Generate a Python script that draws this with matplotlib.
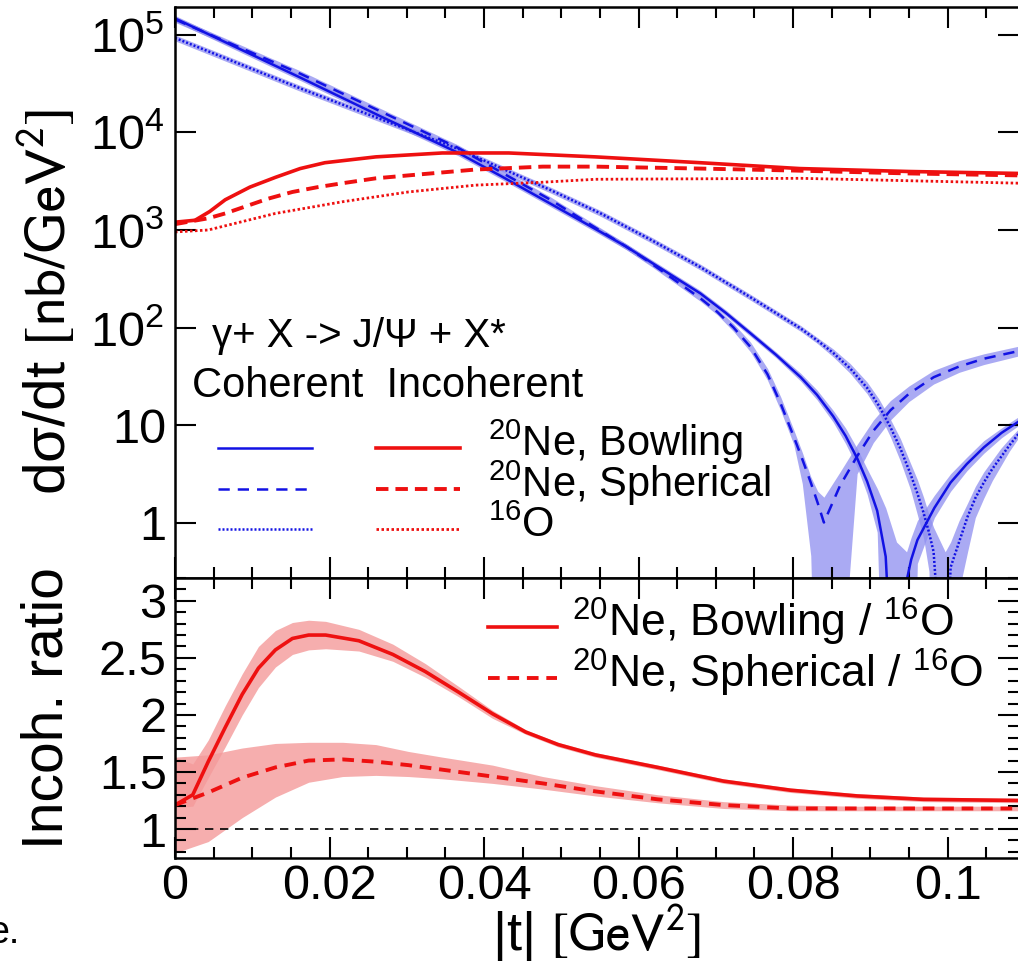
import numpy as np
import matplotlib
matplotlib.use('Agg')
import matplotlib.pyplot as plt
from matplotlib.lines import Line2D
from matplotlib.ticker import FixedLocator, MultipleLocator, LogLocator, NullFormatter

plt.rcParams['font.family'] = ['Liberation Sans', 'DejaVu Sans']
plt.rcParams['mathtext.fontset'] = 'custom'
plt.rcParams['mathtext.rm'] = 'Liberation Sans'
plt.rcParams['mathtext.it'] = 'Liberation Sans:italic'
plt.rcParams['mathtext.bf'] = 'Liberation Sans:bold'

BLUE = '#1212e4'
RED = '#ee1010'
BLUE_BAND = '#8e8ef0'
RED_BAND = '#f49a9a'

# ---- top panel: coherent, log10(dsigma/dt [nb/GeV^2]) ----
t_coh_bowl = [0, 0.0163, 0.0265, 0.0367, 0.0425, 0.0486, 0.0551, 0.0584, 0.0616, 0.0648,
              0.068, 0.0713, 0.0745, 0.0778, 0.081, 0.0831, 0.0852, 0.0868, 0.0883, 0.0896,
              0.0909, 0.0920, 0.0934, 0.0947, 0.0953, 0.0961, 0.0983, 0.1004, 0.1025, 0.1047,
              0.107, 0.1093]
lg_coh_bowl = [5.17, 4.56, 4.17, 3.79, 3.54, 3.27, 2.98, 2.83, 2.67, 2.51,
               2.35, 2.15, 1.94, 1.72, 1.49, 1.31, 1.09, 0.89, 0.66, 0.42,
               0.12, -0.35, -2.5, -0.60, -0.38, -0.18, 0.15, 0.41, 0.60, 0.77,
               0.92, 1.04]
lg_coh_bowl_lo = [5.14, 4.53, 4.14, 3.76, 3.51, 3.24, 2.95, 2.80, 2.64, 2.48,
                  2.32, 2.12, 1.91, 1.69, 1.45, 1.26, 1.03, 0.81, 0.57, 0.29,
                  -0.10, -3, -3, -3, -3, -0.42, 0.05, 0.32, 0.53, 0.71,
                  0.87, 1.00]
lg_coh_bowl_hi = [5.20, 4.59, 4.20, 3.82, 3.57, 3.30, 3.01, 2.86, 2.70, 2.54,
                  2.38, 2.18, 1.97, 1.75, 1.53, 1.36, 1.15, 0.97, 0.76, 0.55,
                  0.35, 0.15, -0.20, -0.30, -0.15, 0.02, 0.28, 0.50, 0.67, 0.84,
                  0.97, 1.09]

t_coh_sph = [0, 0.0163, 0.0265, 0.0367, 0.0425, 0.0486, 0.0551, 0.0584, 0.0616, 0.0648,
             0.068, 0.0702, 0.0723, 0.0745, 0.0767, 0.0784, 0.0801, 0.0812, 0.0823, 0.0832,
             0.0840, 0.0861, 0.0883, 0.0904, 0.0926, 0.095, 0.0982, 0.1015, 0.1047, 0.1093]
lg_coh_sph = [5.16, 4.60, 4.22, 3.84, 3.58, 3.31, 2.99, 2.83, 2.66, 2.48,
              2.30, 2.16, 2.00, 1.80, 1.52, 1.22, 0.88, 0.65, 0.41, 0.20,
              0.0, 0.38, 0.68, 0.94, 1.15, 1.32, 1.49, 1.60, 1.68, 1.76]
lg_coh_sph_lo = [5.13, 4.57, 4.19, 3.81, 3.55, 3.28, 2.96, 2.80, 2.63, 2.45,
                 2.27, 2.13, 1.96, 1.75, 1.46, 1.15, 0.80, 0.40, -0.34, -3,
                 -3, -1.8, 0.50, 0.82, 1.05, 1.24, 1.42, 1.54, 1.62, 1.71]
lg_coh_sph_hi = [5.19, 4.63, 4.25, 3.87, 3.61, 3.34, 3.02, 2.86, 2.69, 2.51,
                 2.33, 2.19, 2.04, 1.85, 1.58, 1.29, 0.95, 0.72, 0.47, 0.32,
                 0.26, 0.52, 0.80, 1.05, 1.25, 1.40, 1.56, 1.66, 1.73, 1.81]

t_coh_o16 = [0, 0.0163, 0.0265, 0.0367, 0.0486, 0.0551, 0.0616, 0.068, 0.0745, 0.081,
             0.0831, 0.0852, 0.0874, 0.0896, 0.0911, 0.0926, 0.0939, 0.0952, 0.0961, 0.0969,
             0.0976, 0.0982, 0.0997, 0.1004, 0.1015, 0.1026, 0.1036, 0.1047, 0.1058, 0.1069,
             0.108, 0.1093]
lg_coh_o16 = [4.97, 4.45, 4.14, 3.83, 3.41, 3.17, 2.90, 2.62, 2.31, 1.99,
              1.87, 1.74, 1.58, 1.38, 1.20, 0.98, 0.76, 0.50, 0.30, 0.10,
              -0.10, -0.30, -2.0, -0.46, -0.20, 0.06, 0.25, 0.41, 0.55, 0.67,
              0.79, 0.92]
lg_coh_o16_lo = [4.94, 4.42, 4.11, 3.80, 3.38, 3.14, 2.87, 2.59, 2.28, 1.96,
                 1.84, 1.70, 1.53, 1.32, 1.13, 0.88, 0.63, 0.34, 0.08, -0.16,
                 -0.5, -3, -3, -3, -0.7, -0.30, 0.05, 0.25, 0.43, 0.58,
                 0.73, 0.88]
lg_coh_o16_hi = [5.00, 4.48, 4.17, 3.86, 3.44, 3.20, 2.93, 2.65, 2.34, 2.02,
                 1.90, 1.78, 1.63, 1.44, 1.27, 1.06, 0.86, 0.61, 0.44, 0.26,
                 0.08, -0.05, -0.30, -0.20, 0.02, 0.20, 0.37, 0.52, 0.64, 0.76,
                 0.86, 0.97]

# ---- top panel: incoherent ----
t_inc_bowl = [0, 0.0026, 0.0045, 0.0065, 0.0097, 0.013, 0.0162, 0.0194, 0.026, 0.0346,
              0.0432, 0.0544, 0.068, 0.0809, 0.095, 0.1093]
lg_inc_bowl = [3.08, 3.10, 3.19, 3.31, 3.44, 3.54, 3.63, 3.69, 3.75, 3.79,
               3.79, 3.75, 3.69, 3.63, 3.60, 3.58]
t_inc_sph = [0, 0.0043, 0.0065, 0.0087, 0.012, 0.0152, 0.0185, 0.0217, 0.026, 0.0302,
             0.0389, 0.0476, 0.0544, 0.068, 0.080, 0.095, 0.1093]
lg_inc_sph = [3.06, 3.12, 3.17, 3.23, 3.32, 3.39, 3.44, 3.48, 3.53, 3.56,
              3.62, 3.65, 3.65, 3.63, 3.61, 3.58, 3.56]
t_inc_o16 = [0, 0.0043, 0.013, 0.0217, 0.0302, 0.0389, 0.0476, 0.0544, 0.081, 0.1093]
lg_inc_o16 = [2.98, 3.00, 3.17, 3.29, 3.39, 3.46, 3.49, 3.52, 3.53, 3.48]

# ---- bottom panel: incoherent ratios ----
t_rat_bowl = [0, 0.0023, 0.0043, 0.0065, 0.0087, 0.0108, 0.013, 0.0152, 0.0173, 0.0195,
              0.0238, 0.0282, 0.0324, 0.0367, 0.0411, 0.0454, 0.0496, 0.0544, 0.0625,
              0.071, 0.0797, 0.0883, 0.0969, 0.1093]
rat_bowl = [1.21, 1.30, 1.59, 1.89, 2.18, 2.41, 2.57, 2.67, 2.70, 2.70,
            2.65, 2.53, 2.38, 2.20, 2.01, 1.85, 1.74, 1.65, 1.54,
            1.42, 1.34, 1.29, 1.26, 1.25]
rat_bowl_lo = [1.19, 1.20, 1.45, 1.72, 2.00, 2.24, 2.42, 2.53, 2.57, 2.58,
               2.56, 2.47, 2.33, 2.16, 1.97, 1.83, 1.72, 1.63, 1.52,
               1.40, 1.32, 1.27, 1.24, 1.23]
rat_bowl_hi = [1.63, 1.57, 1.78, 2.08, 2.36, 2.60, 2.74, 2.81, 2.83, 2.82,
               2.75, 2.62, 2.45, 2.25, 2.04, 1.87, 1.76, 1.67, 1.56,
               1.44, 1.36, 1.31, 1.28, 1.27]

t_rat_sph = [0, 0.0043, 0.0087, 0.013, 0.0173, 0.0217, 0.026, 0.0302, 0.0346, 0.0411,
             0.0476, 0.0544, 0.0625, 0.071, 0.0797, 0.0883, 0.0969, 0.1093]
rat_sph = [1.21, 1.32, 1.45, 1.54, 1.60, 1.61, 1.59, 1.56, 1.52, 1.46,
           1.40, 1.33, 1.26, 1.21, 1.18, 1.18, 1.18, 1.18]
rat_sph_lo = [0.79, 0.89, 1.10, 1.28, 1.41, 1.46, 1.47, 1.46, 1.44, 1.40,
              1.35, 1.29, 1.23, 1.18, 1.16, 1.16, 1.16, 1.16]
rat_sph_hi = [1.63, 1.65, 1.71, 1.75, 1.76, 1.76, 1.74, 1.68, 1.63, 1.56,
              1.46, 1.38, 1.30, 1.24, 1.21, 1.20, 1.20, 1.20]

x_ticks = [0, 0.02, 0.04, 0.06, 0.08, 0.1]
x_ticklabels = ['0', '0.02', '0.04', '0.06', '0.08', '0.1']
top_ticks = [1, 10, 1e2, 1e3, 1e4, 1e5]
top_ticklabels = ['1', '10', '$10^{2}$ ', '$10^{3}$ ', '$10^{4}$ ', '$10^{5}$ ']
bot_ticks = [1, 1.5, 2, 2.5, 3]
bot_ticklabels = ['1', '1.5', '2', '2.5', '3']

W, H = 1018, 964
fig = plt.figure(figsize=(W / 100, H / 100), dpi=100)
ax1 = fig.add_axes([175 / W, 1 - 578 / H, 844 / W, 571 / H])
ax2 = fig.add_axes([175 / W, 1 - 858 / H, 844 / W, 280 / H])

xmax = 0.02 * 844 / 154.5

# coherent uncertainty bands
for t, lo, hi in [(t_coh_bowl, lg_coh_bowl_lo, lg_coh_bowl_hi),
                  (t_coh_sph, lg_coh_sph_lo, lg_coh_sph_hi),
                  (t_coh_o16, lg_coh_o16_lo, lg_coh_o16_hi)]:
    ax1.fill_between(t, 10 ** np.array(lo), 10 ** np.array(hi),
                     color=BLUE_BAND, alpha=0.75, lw=0)

# coherent lines
ax1.plot(t_coh_bowl, 10 ** np.array(lg_coh_bowl), color=BLUE, lw=1.8)
ax1.plot(t_coh_sph, 10 ** np.array(lg_coh_sph), color=BLUE, lw=1.8, dashes=(4.5, 3.2))
ax1.plot(t_coh_o16, 10 ** np.array(lg_coh_o16), color=BLUE, lw=1.8, dashes=(0.8, 0.8))
# incoherent lines
ax1.plot(t_inc_bowl, 10 ** np.array(lg_inc_bowl), color=RED, lw=2.6)
ax1.plot(t_inc_sph, 10 ** np.array(lg_inc_sph), color=RED, lw=2.8, dashes=(3.2, 1.8))
ax1.plot(t_inc_o16, 10 ** np.array(lg_inc_o16), color=RED, lw=2.0, dashes=(0.9, 0.9))

ax1.set_yscale('log')
ax1.set_xlim(0, xmax)
ax1.set_ylim(10 ** -0.569, 10 ** 5.287)

# bottom panel
ax2.fill_between(t_rat_sph, rat_sph_lo, rat_sph_hi, color=RED_BAND, alpha=0.8, lw=0)
ax2.fill_between(t_rat_bowl, rat_bowl_lo, rat_bowl_hi, color=RED_BAND, alpha=0.8, lw=0)
ax2.plot(t_rat_bowl, rat_bowl, color=RED, lw=2.6)
ax2.plot(t_rat_sph, rat_sph, color=RED, lw=2.8, dashes=(3.0, 2.0))
ax2.axhline(1, color='black', lw=1.2, dashes=(5, 4))
ax2.set_xlim(0, xmax)
ax2.set_ylim(0.746, 3.20)

# axes styling
for ax in (ax1, ax2):
    for s in ax.spines.values():
        s.set_linewidth(1.8)
    ax.tick_params(which='both', direction='in', top=True, right=True, width=1.5)
    ax.tick_params(which='major', length=15, labelsize=35, pad=6)
    ax.tick_params(which='minor', length=8)
    ax.xaxis.set_major_locator(FixedLocator(x_ticks))
    ax.xaxis.set_minor_locator(MultipleLocator(0.005))

ax1.set_xticklabels([])
ax2.set_xticklabels(x_ticklabels)
ax2.tick_params(axis='x', pad=4)

ax1.yaxis.set_major_locator(FixedLocator(top_ticks))
ax1.yaxis.set_minor_locator(LogLocator(base=10, subs=np.arange(2, 10)))
ax1.yaxis.set_minor_formatter(NullFormatter())
ax1.set_yticklabels(top_ticklabels)

ax2.yaxis.set_major_locator(FixedLocator(bot_ticks))
ax2.yaxis.set_minor_locator(MultipleLocator(0.1))
ax2.set_yticklabels(bot_ticklabels)

# axis titles
fig.text(47 / W, 1 - 302 / H, 'dσ/dt ' + r'$\left[\mathrm{nb/GeV^{2}}\right]$',
         rotation=90, ha='center', va='center', fontsize=42, math_fontfamily='stixsans')
fig.text(48 / W, 1 - 708 / H, 'Incoh. ratio', rotation=90, ha='center', va='center',
         fontsize=41)
fig.text(597 / W, 1 - 934 / H, '|t| ' + r'$\left[\mathrm{GeV^{2}}\right]$',
         ha='center', va='center', fontsize=39, math_fontfamily='stixsans')
fig.text(20 / W, 1 - 943 / H, 'e.', ha='right', va='baseline', fontsize=27)


# top legend (keys drawn in axes fraction)
def ax1_xy(px, py):
    return (px - 175) / 844, (578 - py) / 571


tx, ty = ax1_xy(212, 347)
ax1.text(tx, ty, 'γ+ X -> J/Ψ + X*', transform=ax1.transAxes, fontsize=29, va='baseline')
tx, ty = ax1_xy(192, 397)
ax1.text(tx, ty, 'Coherent  Incoherent', transform=ax1.transAxes, fontsize=30, va='baseline')

key_styles = [dict(), dict(dashes=(4.5, 3.2)), dict(dashes=(0.8, 0.8))]
red_styles = [dict(lw=2.6), dict(lw=2.8, dashes=(3.2, 1.8)), dict(lw=2.0, dashes=(0.9, 0.9))]
top_labels = ['$^{20}$Ne, Bowling', '$^{20}$Ne, Spherical', '$^{16}$O']
for i, (bs, rs, lab) in enumerate(zip(key_styles, red_styles, top_labels)):
    py = 448 + 40.5 * i
    x0, y0 = ax1_xy(218, py)
    x1, _ = ax1_xy(312, py)
    ax1.add_line(Line2D([x0, x1], [y0, y0], transform=ax1.transAxes, color=BLUE, lw=1.8, **bs))
    x0, _ = ax1_xy(376, py)
    x1, _ = ax1_xy(460, py)
    ax1.add_line(Line2D([x0, x1], [y0, y0], transform=ax1.transAxes, color=RED, **rs))
    lx, ly = ax1_xy(488, py + 8)
    ax1.text(lx, ly, lab, transform=ax1.transAxes, fontsize=30, va='baseline')


# bottom legend
def ax2_xy(px, py):
    return (px - 175) / 844, (858 - py) / 280


bot_labels = ['$^{20}$Ne, Bowling / $^{16}$O', '$^{20}$Ne, Spherical / $^{16}$O']
bot_styles = [dict(lw=2.6), dict(lw=2.8, dashes=(3.0, 2.0))]
for i, (st, lab) in enumerate(zip(bot_styles, bot_labels)):
    py = 627 + 51 * i
    x0, y0 = ax2_xy(488, py)
    x1, _ = ax2_xy(557, py)
    ax2.add_line(Line2D([x0, x1], [y0, y0], transform=ax2.transAxes, color=RED, **st))
    lx, ly = ax2_xy(572, py + 10)
    ax2.text(lx, ly, lab, transform=ax2.transAxes, fontsize=32, va='baseline')

fig.savefig('out.png', dpi=100)
